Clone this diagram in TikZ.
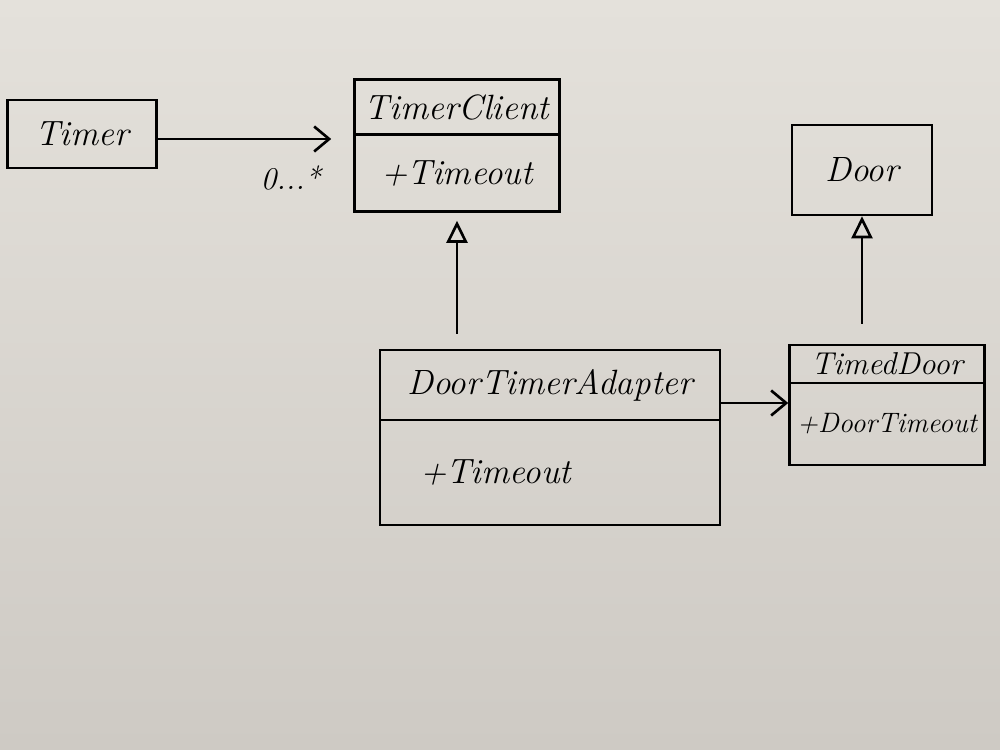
\documentclass[tikz,border=0pt]{standalone}
\usepackage{tikz}
\usetikzlibrary{positioning,arrows.meta}

\definecolor{paper}{RGB}{228,225,219}
\definecolor{paperdark}{RGB}{206,202,196}

\begin{document}
\begin{tikzpicture}[x=0.02cm,y=-0.02cm,
    classbox/.style={draw=black, line width=1.5pt, inner sep=2pt, font=\fontsize{20}{24}\selectfont\itshape},
    smallbox/.style={classbox, font=\fontsize{16}{19}\selectfont\itshape},
    assoc/.style={line width=1.5pt, -{Straight Barb[length=3mm,width=5mm,line width=1.5pt]}},
    inherit/.style={line width=1.5pt, -{Triangle[open,length=4.4mm,width=4.2mm,line width=1.5pt]}}]
  \shade[top color=paper, bottom color=paperdark] (0,0) rectangle (1000,750);
  \useasboundingbox (0,0) rectangle (1000,750);

  % classes
  \node[classbox, minimum width=2.98cm, minimum height=1.36cm] (timer) at (82,134) {Timer};

  \node[classbox, minimum width=4.1cm, minimum height=1.1cm] (clienthead) at (457,107) {TimerClient};
  \node[classbox, minimum width=4.1cm, minimum height=1.54cm, below=-1.5pt of clienthead] (clientbody) {+Timeout};

  \node[classbox, minimum width=2.8cm, minimum height=1.8cm] (door) at (862,170) {Door};

  \node[smallbox, font=\fontsize{18}{20}\selectfont\itshape, inner ysep=0pt, minimum width=3.9cm, minimum height=0.76cm] (doorhead) at (887,364) {TimedDoor};
  \node[smallbox, minimum width=3.9cm, minimum height=1.64cm, below=-1.5pt of doorhead] (doorbody) {+DoorTimeout};

  \node[classbox, minimum width=6.8cm, minimum height=1.4cm] (adapterhead) at (550,385) {DoorTimerAdapter};
  \node[classbox, text width=5.2cm, inner xsep=0.8cm, align=left, minimum height=2.1cm, below=-1.5pt of adapterhead] (adapterbody) {+Timeout};

  % relations
  \draw[assoc, shorten >=0.44cm] ([yshift=-0.1cm]timer.east) -- ([yshift=-0.1cm]timer.east -| clienthead.west)
    node[pos=0.68, below=0.4cm, font=\fontsize{18}{21}\selectfont\itshape] (mult) {0...*};
  \draw[inherit, shorten <=0.3cm, shorten >=0.16cm] (clientbody.south |- adapterhead.north) -- (clientbody.south);
  \draw[inherit, shorten <=0.4cm] (door.south |- doorhead.north) -- (door.south);
  \draw[assoc] ([yshift=-0.36cm]adapterhead.east) -- ([yshift=-0.36cm]adapterhead.east -| doorhead.west);
\end{tikzpicture}
\end{document}
